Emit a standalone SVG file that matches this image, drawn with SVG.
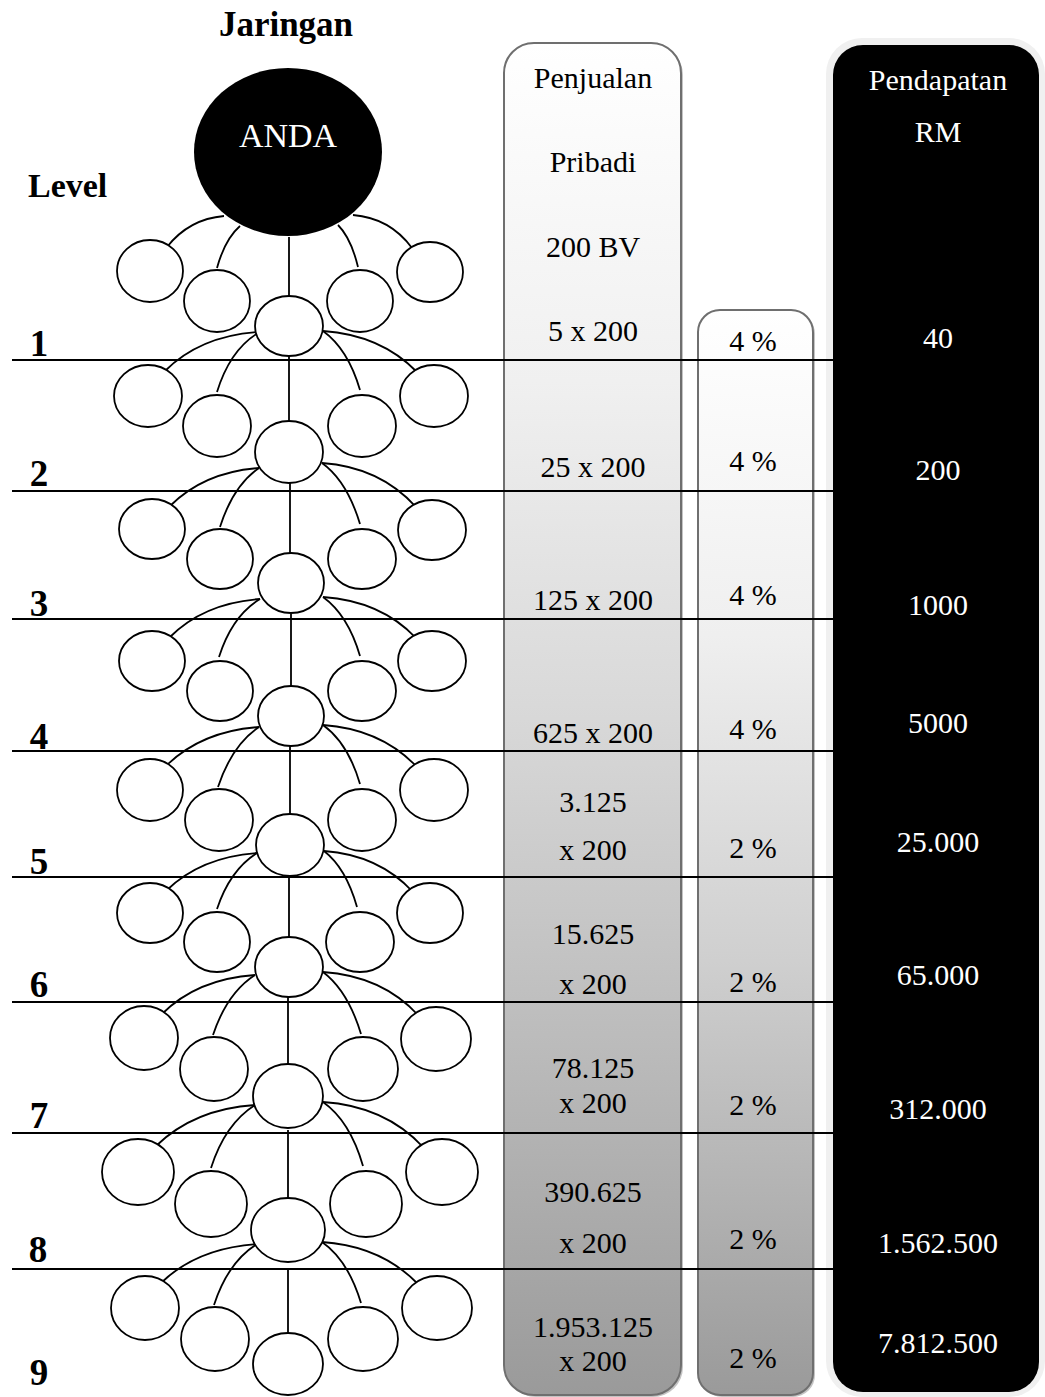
<svg xmlns="http://www.w3.org/2000/svg" width="1045" height="1397" viewBox="0 0 1045 1397">
<defs>
<style>
.n{fill:#fff;stroke:#000;stroke-width:1.8}
.c{fill:none;stroke:#000;stroke-width:1.8}
.lv{stroke:#000;stroke-width:2}
.t{font-family:"Liberation Serif","Times New Roman",serif;font-size:30px;text-anchor:middle;fill:#000}
.w{fill:#fff}
.b{font-weight:bold}
.col{stroke:#6f6f6f;stroke-width:2}
</style>
<linearGradient id="gP" x1="0" y1="0" x2="0" y2="1">
<stop offset="0" stop-color="#ffffff"/>
<stop offset="0.25" stop-color="#f0f0f0"/>
<stop offset="0.5" stop-color="#d8d8d8"/>
<stop offset="0.75" stop-color="#bababa"/>
<stop offset="1" stop-color="#9a9a9a"/>
</linearGradient>
<linearGradient id="gQ" x1="0" y1="0" x2="0" y2="1">
<stop offset="0" stop-color="#ffffff"/>
<stop offset="0.3" stop-color="#efefef"/>
<stop offset="0.6" stop-color="#cfcfcf"/>
<stop offset="1" stop-color="#9a9a9a"/>
</linearGradient>
</defs>
<rect x="0" y="0" width="1045" height="1397" fill="#fff"/>

<g id="columns">
<rect x="506" y="45" width="177" height="1352" rx="30" fill="#c4c4c4"/>
<rect x="504" y="43" width="177" height="1352" rx="30" class="col" fill="url(#gP)"/>
<rect x="700" y="312" width="115" height="1085" rx="22" fill="#c4c4c4"/>
<rect x="698" y="310" width="115" height="1085" rx="22" class="col" fill="url(#gQ)"/>
<rect x="826" y="38" width="219" height="1359" rx="36" fill="#f0f0f0"/>
<rect x="833" y="45" width="206" height="1347" rx="30" fill="#000"/>
</g>

<g id="level-lines">
<line x1="12" y1="360" x2="833" y2="360" class="lv"/>
<line x1="12" y1="491" x2="833" y2="491" class="lv"/>
<line x1="12" y1="619" x2="833" y2="619" class="lv"/>
<line x1="12" y1="751" x2="833" y2="751" class="lv"/>
<line x1="12" y1="877" x2="833" y2="877" class="lv"/>
<line x1="12" y1="1002" x2="833" y2="1002" class="lv"/>
<line x1="12" y1="1133" x2="833" y2="1133" class="lv"/>
<line x1="12" y1="1269" x2="833" y2="1269" class="lv"/>
</g>

<g id="connectors">
<path class="c" d="M224,216 Q189,219 167,247"/>
<path class="c" d="M240,226 Q225,239 217,268"/>
<path class="c" d="M289,237 V296"/>
<path class="c" d="M338,225 Q351,238 358,267"/>
<path class="c" d="M353,215 Q390,218 412,248"/>

<path class="c" d="M258,332 Q200,336 165,371"/>
<path class="c" d="M258,333 Q230,350 217,392"/>
<path class="c" d="M289,356 V421"/>
<path class="c" d="M323,331 Q348,349 360,390"/>
<path class="c" d="M323,331 Q381,335 417,372"/>

<path class="c" d="M259,468 Q204,472 170,506"/>
<path class="c" d="M259,468 Q233,486 220,527"/>
<path class="c" d="M290,482 V553"/>
<path class="c" d="M322,463 Q347,481 360,524"/>
<path class="c" d="M322,463 Q380,467 416,507"/>

<path class="c" d="M260,599 Q204,603 170,637"/>
<path class="c" d="M260,599 Q232,616 219,657"/>
<path class="c" d="M291,614 V686"/>
<path class="c" d="M323,597 Q348,615 360,656"/>
<path class="c" d="M323,597 Q381,601 416,638"/>

<path class="c" d="M259,727 Q202,731 167,765"/>
<path class="c" d="M259,727 Q232,745 218,787"/>
<path class="c" d="M290,746 V814"/>
<path class="c" d="M323,725 Q348,743 360,784"/>
<path class="c" d="M323,725 Q381,729 417,767"/>

<path class="c" d="M257,853 Q201,857 167,890"/>
<path class="c" d="M257,853 Q230,870 217,909"/>
<path class="c" d="M289,876 V937"/>
<path class="c" d="M324,851 Q346,868 357,907"/>
<path class="c" d="M324,851 Q379,855 413,892"/>

<path class="c" d="M255,975 Q197,979 162,1014"/>
<path class="c" d="M255,975 Q227,993 213,1035"/>
<path class="c" d="M288,997 V1064"/>
<path class="c" d="M323,972 Q348,991 361,1034"/>
<path class="c" d="M323,972 Q382,976 418,1015"/>

<path class="c" d="M255,1105 Q194,1109 156,1146"/>
<path class="c" d="M255,1105 Q225,1124 211,1168"/>
<path class="c" d="M288,1130 V1198"/>
<path class="c" d="M323,1102 Q350,1121 363,1166"/>
<path class="c" d="M323,1102 Q385,1106 423,1147"/>

<path class="c" d="M257,1244 Q197,1248 161,1283"/>
<path class="c" d="M257,1244 Q228,1262 214,1305"/>
<path class="c" d="M288,1268 V1333"/>
<path class="c" d="M322,1242 Q348,1260 361,1303"/>
<path class="c" d="M322,1242 Q381,1246 418,1284"/>
</g>

<g id="node-anda"><ellipse cx="288" cy="152" rx="94" ry="84" fill="#000"/><text x="288" y="147" class="t w" style="font-size:34px">ANDA</text></g>

<g id="node-u0-fl"><ellipse class="n" cx="150" cy="271" rx="33" ry="31"/></g>
<g id="node-u0-il"><ellipse class="n" cx="217" cy="301" rx="33" ry="31"/></g>
<g id="node-u0-c"><ellipse class="n" cx="289" cy="326" rx="34" ry="30"/></g>
<g id="node-u0-ir"><ellipse class="n" cx="360" cy="301" rx="33" ry="31"/></g>
<g id="node-u0-fr"><ellipse class="n" cx="430" cy="272" rx="33" ry="30"/></g>

<g id="node-u1-fl"><ellipse class="n" cx="148" cy="396" rx="34" ry="31"/></g>
<g id="node-u1-il"><ellipse class="n" cx="217" cy="426" rx="34" ry="31"/></g>
<g id="node-u1-c"><ellipse class="n" cx="289" cy="452" rx="34" ry="31"/></g>
<g id="node-u1-ir"><ellipse class="n" cx="362" cy="426" rx="34" ry="31"/></g>
<g id="node-u1-fr"><ellipse class="n" cx="434" cy="396" rx="34" ry="31"/></g>

<g id="node-u2-fl"><ellipse class="n" cx="152" cy="529" rx="33" ry="30"/></g>
<g id="node-u2-il"><ellipse class="n" cx="220" cy="559" rx="33" ry="30"/></g>
<g id="node-u2-c"><ellipse class="n" cx="291" cy="583" rx="33" ry="30"/></g>
<g id="node-u2-ir"><ellipse class="n" cx="362" cy="559" rx="34" ry="30"/></g>
<g id="node-u2-fr"><ellipse class="n" cx="432" cy="530" rx="34" ry="30"/></g>

<g id="node-u3-fl"><ellipse class="n" cx="152" cy="661" rx="33" ry="30"/></g>
<g id="node-u3-il"><ellipse class="n" cx="220" cy="691" rx="33" ry="30"/></g>
<g id="node-u3-c"><ellipse class="n" cx="291" cy="716" rx="33" ry="30"/></g>
<g id="node-u3-ir"><ellipse class="n" cx="362" cy="691" rx="34" ry="30"/></g>
<g id="node-u3-fr"><ellipse class="n" cx="432" cy="661" rx="34" ry="30"/></g>

<g id="node-u4-fl"><ellipse class="n" cx="150" cy="790" rx="33" ry="31"/></g>
<g id="node-u4-il"><ellipse class="n" cx="219" cy="820" rx="34" ry="31"/></g>
<g id="node-u4-c"><ellipse class="n" cx="290" cy="845" rx="34" ry="31"/></g>
<g id="node-u4-ir"><ellipse class="n" cx="362" cy="820" rx="34" ry="31"/></g>
<g id="node-u4-fr"><ellipse class="n" cx="434" cy="790" rx="34" ry="31"/></g>

<g id="node-u5-fl"><ellipse class="n" cx="150" cy="913" rx="33" ry="30"/></g>
<g id="node-u5-il"><ellipse class="n" cx="217" cy="942" rx="33" ry="30"/></g>
<g id="node-u5-c"><ellipse class="n" cx="289" cy="967" rx="34" ry="30"/></g>
<g id="node-u5-ir"><ellipse class="n" cx="360" cy="942" rx="34" ry="30"/></g>
<g id="node-u5-fr"><ellipse class="n" cx="430" cy="913" rx="33" ry="30"/></g>

<g id="node-u6-fl"><ellipse class="n" cx="144" cy="1038" rx="34" ry="32"/></g>
<g id="node-u6-il"><ellipse class="n" cx="214" cy="1069" rx="34" ry="32"/></g>
<g id="node-u6-c"><ellipse class="n" cx="288" cy="1096" rx="35" ry="32"/></g>
<g id="node-u6-ir"><ellipse class="n" cx="363" cy="1069" rx="35" ry="32"/></g>
<g id="node-u6-fr"><ellipse class="n" cx="436" cy="1039" rx="35" ry="32"/></g>

<g id="node-u7-fl"><ellipse class="n" cx="138" cy="1172" rx="36" ry="33"/></g>
<g id="node-u7-il"><ellipse class="n" cx="211" cy="1204" rx="36" ry="33"/></g>
<g id="node-u7-c"><ellipse class="n" cx="288" cy="1230" rx="37" ry="32"/></g>
<g id="node-u7-ir"><ellipse class="n" cx="366" cy="1204" rx="36" ry="33"/></g>
<g id="node-u7-fr"><ellipse class="n" cx="442" cy="1172" rx="36" ry="33"/></g>

<g id="node-u8-fl"><ellipse class="n" cx="145" cy="1308" rx="34" ry="32"/></g>
<g id="node-u8-il"><ellipse class="n" cx="215" cy="1339" rx="34" ry="32"/></g>
<g id="node-u8-c"><ellipse class="n" cx="288" cy="1364" rx="35" ry="31"/></g>
<g id="node-u8-ir"><ellipse class="n" cx="363" cy="1339" rx="35" ry="32"/></g>
<g id="node-u8-fr"><ellipse class="n" cx="437" cy="1308" rx="35" ry="32"/></g>

<g id="headings">
<text x="286" y="36" class="t b" style="font-size:35px">Jaringan</text>
<text x="28" y="197" class="t b" style="font-size:34px;text-anchor:start">Level</text>
</g>

<g id="level-numbers" class="t b" style="font-size:37px">
<text x="39" y="356">1</text>
<text x="39" y="486">2</text>
<text x="39" y="616">3</text>
<text x="39" y="749">4</text>
<text x="39" y="874">5</text>
<text x="39" y="997">6</text>
<text x="39" y="1128">7</text>
<text x="38" y="1262">8</text>
<text x="39" y="1385">9</text>
</g>

<g id="penjualan-text" class="t">
<text x="593" y="88">Penjualan</text>
<text x="593" y="172">Pribadi</text>
<text x="593" y="257">200 BV</text>
<text x="593" y="341">5 x 200</text>
<text x="593" y="477">25 x 200</text>
<text x="593" y="610">125 x 200</text>
<text x="593" y="743">625 x 200</text>
<text x="593" y="812">3.125</text>
<text x="593" y="860">x 200</text>
<text x="593" y="944">15.625</text>
<text x="593" y="994">x 200</text>
<text x="593" y="1078">78.125</text>
<text x="593" y="1113">x 200</text>
<text x="593" y="1202">390.625</text>
<text x="593" y="1253">x 200</text>
<text x="593" y="1337">1.953.125</text>
<text x="593" y="1371">x 200</text>
</g>

<g id="percent-text" class="t">
<text x="753" y="351">4 %</text>
<text x="753" y="471">4 %</text>
<text x="753" y="605">4 %</text>
<text x="753" y="739">4 %</text>
<text x="753" y="858">2 %</text>
<text x="753" y="992">2 %</text>
<text x="753" y="1115">2 %</text>
<text x="753" y="1249">2 %</text>
<text x="753" y="1368">2 %</text>
</g>

<g id="pendapatan-text" class="t w">
<text x="938" y="90">Pendapatan</text>
<text x="938" y="142">RM</text>
<text x="938" y="348">40</text>
<text x="938" y="480">200</text>
<text x="938" y="615">1000</text>
<text x="938" y="733">5000</text>
<text x="938" y="852">25.000</text>
<text x="938" y="985">65.000</text>
<text x="938" y="1119">312.000</text>
<text x="938" y="1253">1.562.500</text>
<text x="938" y="1353">7.812.500</text>
</g>
</svg>
